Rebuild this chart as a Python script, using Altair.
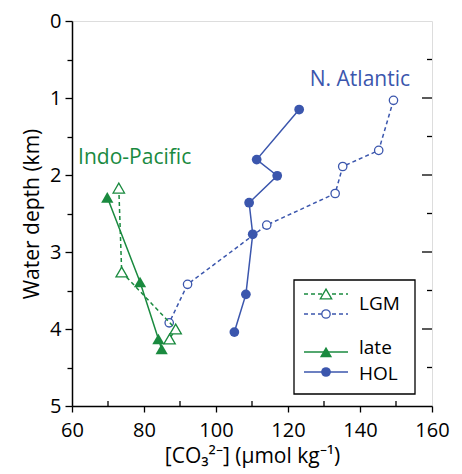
import altair as alt
import pandas as pd

GREEN = "#1a8a3f"
BLUE = "#3b56ad"
FONT = "Open Sans"

# --- data ---
ip_late_co3 = [69.8, 78.9, 84.0, 84.9]
ip_late_depth = [2.29, 3.39, 4.13, 4.26]
ip_lgm_co3 = [73.0, 73.8, 88.8, 87.1]
ip_lgm_depth = [2.17, 3.26, 4.00, 4.13]
na_hol_co3 = [123.1, 111.3, 117.0, 109.2, 110.2, 108.3, 105.1]
na_hol_depth = [1.15, 1.80, 2.01, 2.36, 2.77, 3.55, 4.04]
na_lgm_co3 = [149.3, 145.2, 135.2, 133.1, 114.1, 92.1, 87.0]
na_lgm_depth = [1.03, 1.68, 1.89, 2.24, 2.65, 3.42, 3.92]

x_ticks = [60, 80, 100, 120, 140, 160]
x_minor = [70, 90, 110, 130, 150]
y_ticks = [0, 0.5, 1, 1.5, 2, 2.5, 3, 3.5, 4, 4.5, 5]
y_right_major = [1, 2, 3, 4]
y_right_minor = [0.5, 1.5, 2.5, 3.5, 4.5]

region_labels = ["N. Atlantic", "Indo-Pacific"]
region_label_co3 = [153.9, 61.7]
region_label_depth = [0.76, 1.78]

W, H = 360, 385

xs = alt.Scale(domain=[60, 160], nice=False, zero=False)
ys = alt.Scale(domain=[0, 5], reverse=True, nice=False, zero=False)

X = alt.X("co3:Q", scale=xs, axis=alt.Axis(
    values=x_ticks, title="[CO₃²⁻] (µmol kg⁻¹)", tickSize=6, labelPadding=8,
    grid=False, labelFlush=False, domainColor="black", tickColor="black",
    domainWidth=1.5, tickWidth=1.3, labelFontSize=20, titleFontSize=21,
    titlePadding=5, labelColor="black", titleColor="black",
    labelFont=FONT, titleFont=FONT, titleFontWeight="normal"))
Y = alt.Y("depth:Q", scale=ys, axis=alt.Axis(
    values=y_ticks, title="Water depth (km)",
    labelExpr="datum.value % 1 == 0 ? format(datum.value, 'd') : ''",
    tickSize={"condition": {"test": "datum.value % 1 == 0", "value": 7}, "value": 5},
    labelPadding=4, grid=False, domainColor="black", tickColor="black",
    domainWidth=1.5, tickWidth=1.3, labelFontSize=20, titleFontSize=21,
    titlePadding=7, labelColor="black", titleColor="black",
    labelFont=FONT, titleFont=FONT, titleFontWeight="normal"))


def df(xv, dv):
    return pd.DataFrame({"co3": xv, "depth": dv, "idx": list(range(len(xv)))})


def series(xv, dv, color, dashed, shape, filled, size):
    d = df(xv, dv)
    line_kw = dict(color=color, strokeWidth=1.5)
    if dashed:
        line_kw["strokeDash"] = [4, 3]
    line = alt.Chart(d).mark_line(**line_kw).encode(x=X, y=Y, order="idx:Q")
    pt_kw = dict(shape=shape, size=size, opacity=1)
    if filled:
        pt_kw.update(filled=True, color=color)
    else:
        pt_kw.update(filled=True, fill="white", stroke=color, strokeWidth=1.3)
    pts = alt.Chart(d).mark_point(**pt_kw).encode(x=X, y=Y)
    return [line, pts]


layers = []
layers += series(na_lgm_co3, na_lgm_depth, BLUE, True, "circle", False, 70)
layers += series(ip_lgm_co3, ip_lgm_depth, GREEN, True, "triangle-up", False, 130)
layers += series(na_hol_co3, na_hol_depth, BLUE, False, "circle", True, 95)
layers += series(ip_late_co3, ip_late_depth, GREEN, False, "triangle-up", True, 150)

# region labels
lab = pd.DataFrame({"label": region_labels, "co3": region_label_co3,
                    "depth": region_label_depth})
layers.append(alt.Chart(lab.iloc[[0]]).mark_text(
    align="right", baseline="middle", fontSize=21, font=FONT, color=BLUE
).encode(x=X, y=Y, text="label:N"))
layers.append(alt.Chart(lab.iloc[[1]]).mark_text(
    align="left", baseline="middle", fontSize=21, font=FONT, color=GREEN
).encode(x=X, y=Y, text="label:N"))

# inner ticks: bottom minor, right major/minor
layers.append(alt.Chart(pd.DataFrame({"co3": x_minor})).mark_rule(
    color="black", strokeWidth=1.3).encode(x=X, y=alt.value(H), y2=alt.value(H - 5)))
layers.append(alt.Chart(pd.DataFrame({"depth": y_right_major})).mark_rule(
    color="black", strokeWidth=1.3).encode(y=Y, x=alt.value(W), x2=alt.value(W - 10)))
layers.append(alt.Chart(pd.DataFrame({"depth": y_right_minor})).mark_rule(
    color="black", strokeWidth=1.3).encode(y=Y, x=alt.value(W), x2=alt.value(W - 5)))

# legend (drawn by hand)
one = pd.DataFrame({"k": [0]})
layers.append(alt.Chart(one).mark_rect(fill="white", stroke="black", strokeWidth=1.3).encode(
    x=alt.value(222), x2=alt.value(343), y=alt.value(259), y2=alt.value(373)))


def leg_row(yv, color, dashed, shape, filled, size):
    kw = dict(color=color, strokeWidth=1.5)
    if dashed:
        kw["strokeDash"] = [4, 3]
    r = alt.Chart(one).mark_rule(**kw).encode(
        x=alt.value(232), x2=alt.value(276), y=alt.value(yv))
    pk = dict(shape=shape, size=size, opacity=1)
    if filled:
        pk.update(filled=True, color=color)
    else:
        pk.update(filled=True, fill="white", stroke=color, strokeWidth=1.3)
    p = alt.Chart(one).mark_point(**pk).encode(x=alt.value(254), y=alt.value(yv))
    return [r, p]


layers += leg_row(273, GREEN, True, "triangle-up", False, 130)
layers += leg_row(293, BLUE, True, "circle", False, 70)
layers += leg_row(331, GREEN, False, "triangle-up", True, 150)
layers += leg_row(351, BLUE, False, "circle", True, 95)

for txt, yv in [("LGM", 283), ("late", 327), ("HOL", 353)]:
    layers.append(alt.Chart(one).mark_text(
        align="left", baseline="middle", fontSize=19, font=FONT, color="black"
    ).encode(x=alt.value(287), y=alt.value(yv), text=alt.value(txt)))

chart = alt.layer(*layers).properties(
    width=W, height=H,
    autosize=alt.AutoSizeParams(type="none"),
    padding={"left": 64, "top": 13, "right": 22, "bottom": 67},
).configure_view(stroke="black", strokeWidth=1.5).configure(font=FONT, background="white")

chart.save("out.html", embed_options={"renderer": "svg", "actions": False})
